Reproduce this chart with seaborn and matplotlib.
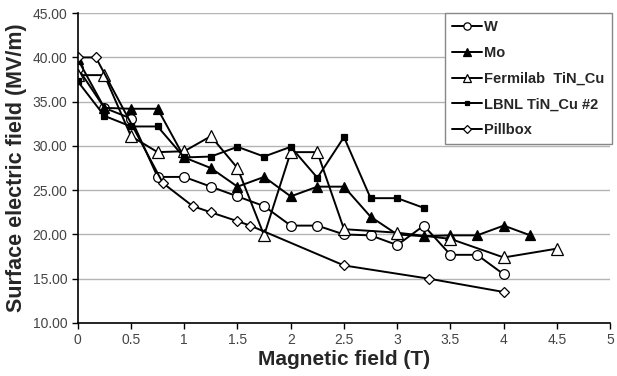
import matplotlib
matplotlib.use("Agg")
import matplotlib.pyplot as plt
import seaborn as sns
import pandas as pd
from matplotlib.ticker import FuncFormatter, MultipleLocator

# data
w_x = [0, 0.25, 0.5, 0.75, 1.0, 1.25, 1.5, 1.75, 2.0, 2.25, 2.5, 2.75, 3.0, 3.25, 3.5, 3.75, 4.0]
w_y = [38.8, 34.3, 33.1, 26.5, 26.5, 25.4, 24.3, 23.2, 21.0, 21.0, 20.0, 19.9, 18.8, 21.0, 17.7, 17.7, 15.5]

mo_x = [0, 0.25, 0.5, 0.75, 1.0, 1.25, 1.5, 1.75, 2.0, 2.25, 2.5, 2.75, 3.0, 3.25, 3.5, 3.75, 4.0, 4.25]
mo_y = [39.8, 34.3, 34.2, 34.2, 28.7, 27.5, 25.4, 26.5, 24.3, 25.4, 25.4, 22.0, 20.0, 19.8, 19.9, 19.9, 21.0, 19.9]

fer_x = [0, 0.25, 0.5, 0.75, 1.0, 1.25, 1.5, 1.75, 2.0, 2.25, 2.5, 3.0, 3.5, 4.0, 4.5]
fer_y = [38.0, 38.0, 31.1, 29.3, 29.4, 31.1, 27.5, 19.9, 29.3, 29.3, 20.6, 20.2, 19.5, 17.4, 18.4]

lbnl_x = [0, 0.25, 0.5, 0.75, 1.0, 1.25, 1.5, 1.75, 2.0, 2.25, 2.5, 2.75, 3.0, 3.25]
lbnl_y = [37.3, 33.4, 32.2, 32.2, 28.7, 28.8, 29.9, 28.8, 29.9, 26.4, 31.0, 24.1, 24.1, 23.0]

pill_x = [0, 0.17, 0.8, 1.08, 1.25, 1.5, 1.62, 2.5, 3.3, 4.0]
pill_y = [40.0, 40.0, 25.8, 23.2, 22.5, 21.5, 21.0, 16.5, 15.0, 13.5]

labels = ["W", "Mo", "Fermilab  TiN_Cu", "LBNL TiN_Cu #2", "Pillbox"]

sns.set_style("white")
plt.rcParams["font.family"] = ["Liberation Sans", "DejaVu Sans"]

fig = plt.figure(figsize=(6.17, 3.76), dpi=100)
ax = fig.add_axes([0.126, 0.141, 0.863, 0.824])

series = [
    (w_x, w_y, dict(marker="o", markersize=7, markerfacecolor="white")),
    (mo_x, mo_y, dict(marker="^", markersize=7, markerfacecolor="black")),
    (fer_x, fer_y, dict(marker="^", markersize=8, markerfacecolor="white")),
    (lbnl_x, lbnl_y, dict(marker="s", markersize=4.5, markerfacecolor="black")),
    (pill_x, pill_y, dict(marker="D", markersize=5.5, markerfacecolor="white")),
]

for (xs, ys, style), lab in zip(series, labels):
    df = pd.DataFrame({"x": xs, "y": ys})
    sns.lineplot(data=df, x="x", y="y", ax=ax, color="black", linewidth=1.4,
                 markeredgecolor="black", markeredgewidth=0.9, estimator=None,
                 sort=False, label=lab, **style)

ax.set_xlim(0, 5)
ax.set_ylim(10, 45)
ax.xaxis.set_major_locator(MultipleLocator(0.5))
ax.yaxis.set_major_locator(MultipleLocator(5))
ax.xaxis.set_major_formatter(FuncFormatter(lambda v, p: f"{v:g}"))
ax.yaxis.set_major_formatter(FuncFormatter(lambda v, p: f"{v:.2f}"))
ax.grid(axis="y", color="#b4b4b4", linewidth=1.0)
ax.set_axisbelow(True)
for s in ["top", "right"]:
    ax.spines[s].set_visible(False)
for s in ["left", "bottom"]:
    ax.spines[s].set_color("black")
    ax.spines[s].set_linewidth(1.2)
ax.tick_params(axis="both", direction="out", length=4, width=1.0, color="black",
               labelsize=10, labelcolor="#444444", bottom=True, left=True)

ax.set_xlabel("Magnetic field (T)", fontsize=15, fontweight="bold", labelpad=2)
ax.set_ylabel("Surface electric field (MV/m)", fontsize=15.5, fontweight="bold", labelpad=4)

leg = ax.legend(loc="upper right", bbox_to_anchor=(612 / 617, 1 - 13 / 376),
                bbox_transform=fig.transFigure, borderaxespad=0, fancybox=False,
                frameon=True, edgecolor="#888888", framealpha=1,
                prop={"weight": "bold", "size": 10.5}, handlelength=2.0,
                handletextpad=0.2, labelspacing=0.8, borderpad=0.5, markerscale=0.75)
leg.get_frame().set_linewidth(1.0)

fig.savefig("out.png", dpi=100)
